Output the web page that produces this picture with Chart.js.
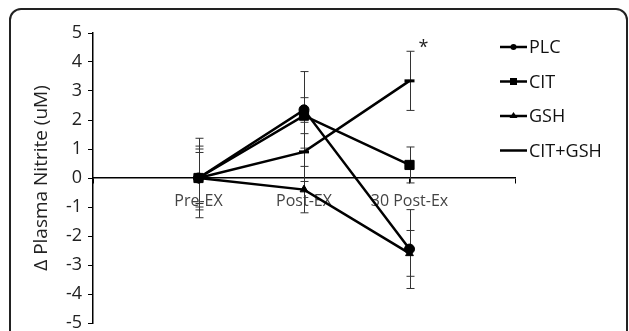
<!DOCTYPE html>
<html>
<head>
<meta charset="utf-8">
<script src="https://cdn.jsdelivr.net/npm/chart.js@4"></script>
<style>
html, body { margin: 0; padding: 0; background: #fff; }
#wrap { position: relative; width: 629px; height: 331px; overflow: hidden; }
#frame { position: absolute; left: 9px; top: 8px; width: 619px; height: 400px; border: 2px solid #222; border-radius: 12px; box-sizing: border-box; }
canvas { position: absolute; left: 0; top: 0; }
</style>
</head>
<body>
<div id="wrap"><div id="frame"></div><canvas id="c" width="629" height="331"></canvas></div>
<script>
// categories (blank ones at both ends so the points sit on the ticks like in Excel)
const categories = ['', 'Pre-EX', 'Post-EX', '30 Post-Ex', ''];
const seriesNames = ['PLC', 'CIT', 'GSH', 'CIT+GSH'];

// mean change in plasma nitrite (uM)
const plcValues = [null, 0, 2.35, -2.45, null];
const citValues = [null, 0, 2.15, 0.45, null];
const gshValues = [null, 0, -0.4, -2.6, null];
const citGshValues = [null, 0, 0.9, 3.35, null];

// error bar half-lengths
const plcErr = [null, 1.37, 1.32, 1.36, null];
const citErr = [null, 1.0, 0.62, 0.62, null];
const gshErr = [null, 0.88, 0.8, 0.79, null];
const citGshErr = [null, 1.1, 1.02, 1.02, null];

const yMin = -5;
const yMax = 5;

// 显著性标记
const starCategory = 3;
const starValue = 4.37;

const pointStyles = ['circle', 'rect', 'triangle', 'line'];
const pointSizes = [5, 6.5, 4.5, 5];

const allValues = [plcValues, citValues, gshValues, citGshValues];
const allErrors = [plcErr, citErr, gshErr, citGshErr];

// error bars under the lines
const errorBars = {
    id: 'errorBars',
    beforeDatasetsDraw(chart) {
        const ctx = chart.ctx;
        const y = chart.scales.y;
        ctx.save();
        ctx.strokeStyle = '#333';
        ctx.lineWidth = 1;
        allErrors.forEach((errs, i) => {
            const meta = chart.getDatasetMeta(i);
            errs.forEach((e, j) => {
                if (e == null) return;
                const v = allValues[i][j];
                const px = Math.round(meta.data[j].x) + 0.5;
                const top = y.getPixelForValue(v + e);
                const bot = y.getPixelForValue(v - e);
                ctx.beginPath();
                ctx.moveTo(px, top); ctx.lineTo(px, bot);
                ctx.moveTo(px - 4, top); ctx.lineTo(px + 4, top);
                ctx.moveTo(px - 4, bot); ctx.lineTo(px + 4, bot);
                ctx.stroke();
            });
        });
        ctx.restore();
    }
};

// legend and asterisk
const extras = {
    id: 'extras',
    afterDraw(chart) {
        const ctx = chart.ctx;
        const area = chart.chartArea;
        ctx.save();
        const x0 = area.right - 15;
        seriesNames.forEach((name, i) => {
            const yy = 47 + i * 34.5;
            ctx.strokeStyle = '#000';
            ctx.lineWidth = 2.5;
            ctx.beginPath();
            ctx.moveTo(x0, yy); ctx.lineTo(x0 + 27, yy);
            ctx.stroke();
            ctx.fillStyle = '#000';
            const cx = x0 + 13.5;
            if (pointStyles[i] === 'circle') {
                ctx.beginPath(); ctx.arc(cx, yy, 3, 0, Math.PI * 2); ctx.fill();
            } else if (pointStyles[i] === 'rect') {
                ctx.fillRect(cx - 3.5, yy - 3.5, 7, 7);
            } else if (pointStyles[i] === 'triangle') {
                ctx.beginPath(); ctx.moveTo(cx, yy - 4); ctx.lineTo(cx + 4, yy + 2); ctx.lineTo(cx - 4, yy + 2); ctx.closePath(); ctx.fill();
            }
            ctx.font = '18px "Open Sans"';
            ctx.textBaseline = 'middle';
            ctx.fillStyle = '#111';
            ctx.fillText(name, x0 + 29, yy + 1);
        });
        const sx = chart.getDatasetMeta(3).data[starCategory].x + 14;
        const sy = chart.scales.y.getPixelForValue(starValue) - 3;
        ctx.font = '18px "Open Sans"';
        ctx.textAlign = 'center';
        ctx.fillStyle = '#222';
        ctx.fillText('*', sx, sy);
        ctx.restore();
    }
};

const datasets = seriesNames.map((name, i) => ({
    label: name,
    data: allValues[i],
    borderColor: '#000',
    backgroundColor: '#000',
    borderWidth: 2.5,
    pointStyle: pointStyles[i],
    pointRadius: pointSizes[i],
    pointBorderWidth: i === 3 ? 3 : 1,
    tension: 0
}));

new Chart(document.getElementById('c'), {
    type: 'line',
    data: { labels: categories, datasets: datasets },
    options: {
        responsive: false,
        animation: false,
        layout: { padding: { left: 27, right: 114, top: 33, bottom: 7 } },
        plugins: { legend: { display: false }, tooltip: { enabled: false } },
        scales: {
            x: {
                position: { y: 0 },
                offset: false,
                grid: { drawOnChartArea: false, tickLength: 5, color: '#000' },
                border: { color: '#000', width: 1.5 },
                ticks: { color: '#444', font: { family: 'Open Sans', size: 16 }, padding: 9, maxRotation: 0, autoSkip: false },
                afterFit: s => { s.height = 0; s.paddingLeft = 0; s.paddingRight = 0; }
            },
            y: {
                min: yMin,
                max: yMax,
                grid: { drawOnChartArea: false, tickLength: 5, color: '#000' },
                border: { color: '#000', width: 1.5 },
                ticks: { stepSize: 1, color: '#222', font: { family: 'Open Sans', size: 18 }, padding: 6 },
                title: { display: true, text: 'Δ Plasma Nitrite (uM)', color: '#222', font: { family: 'Open Sans', size: 19 }, padding: { top: 3, bottom: 0 } },
                afterFit: s => { s.width = 66; s.paddingTop = 0; s.paddingBottom = 0; }
            }
        }
    },
    plugins: [errorBars, extras]
});
</script>
</body>
</html>
